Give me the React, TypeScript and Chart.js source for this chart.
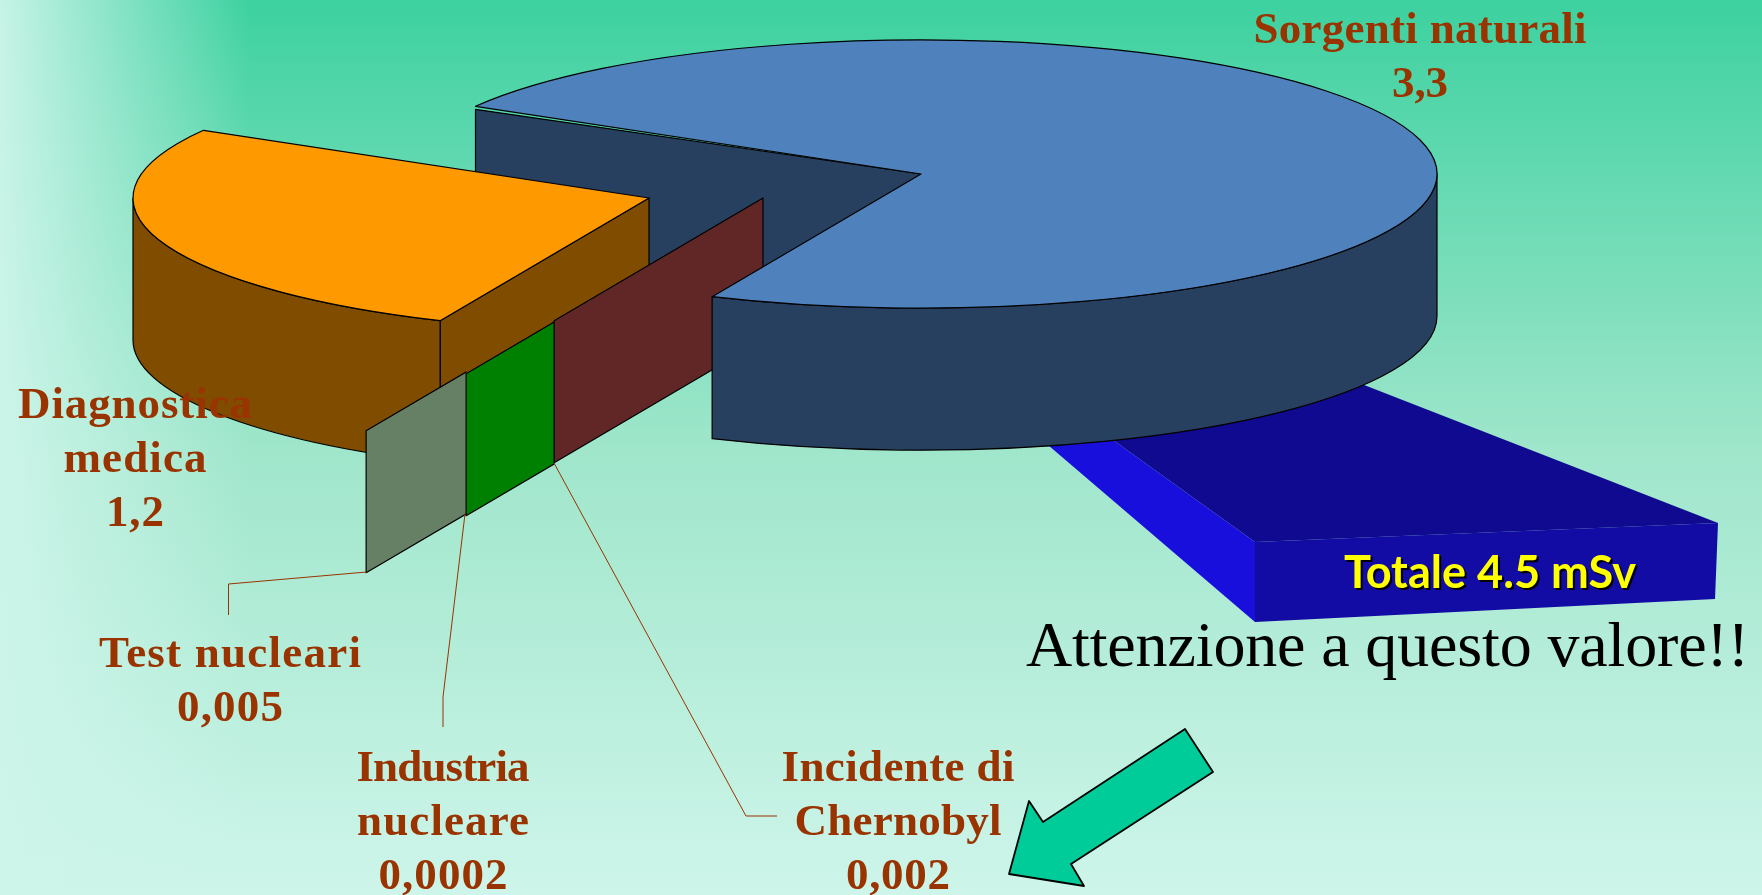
import React, { useEffect, useRef } from "react";
import { Chart, registerables } from "chart.js";

Chart.register(...registerables);

// ---------- data ----------
const sliceNames = [
  ["Sorgenti naturali"],
  ["Incidente di", "Chernobyl"],
  ["Industria", "nucleare"],
  ["Test nucleari"],
  ["Diagnostica", "medica"],
];
const sliceValues = [3.3, 0.002, 0.0002, 0.005, 1.2];
const sliceColors = ["#4F81BD", "#C0504D", "#00FF00", "#CCFFCC", "#FF9900"];
const wallColors = ["#27405F", "#602726", "#008000", "#668066", "#804D00"];
const totalLabel = "Totale 4.5 mSv";
const noteLabel = "Attenzione a questo valore!!";

// ---------- styling / layout ----------
const W = 1762;
const H = 895;
const PIE_RADIUS = 516;
const TILT = 0.26;
const DEPTH = 142;
// explosion of every slice in px on screen (PowerPoint-style pull-out)
const sliceShift: number[][] = [[0, 0], [-158, 24], [-246, 77], [-346, 134], [-272, 24]];
// label boxes per slice: centre x, first baseline, width per line (name lines, then value)
const labelBoxes = [
  { cx: 1420, y: 43, widths: [333, 56] },
  { cx: 898, y: 781, widths: [233, 207, 104] },
  { cx: 443, y: 781, widths: [173, 172, 129] },
  { cx: 230, y: 667, widths: [262, 106] },
  { cx: 135, y: 418, widths: [234, 143, 58] },
];
const LINE_H = 54;
const leaders = [
  [[366.5, 572], [228.5, 584], [228.5, 615]],
  [[465, 514], [443, 697], [443, 727]],
  [[554, 463], [746, 816], [777, 816]],
];
const arrowOutline = [[1185, 729], [1213, 772], [1071, 864], [1084, 886], [1009, 874], [1029, 801], [1043, 822]];

function poly(ctx: CanvasRenderingContext2D, pts: number[][], fill: any, stroke?: string) {
  ctx.beginPath();
  pts.forEach((p, i) => (i ? ctx.lineTo(p[0], p[1]) : ctx.moveTo(p[0], p[1])));
  ctx.closePath();
  ctx.fillStyle = fill;
  ctx.fill();
  if (stroke) {
    ctx.strokeStyle = stroke;
    ctx.stroke();
  }
}

// draw a centred line spread out to the width it has in the reference
function fitText(ctx: any, t: string, cx: number, y: number, width: number) {
  ctx.letterSpacing = "0px";
  const natural = ctx.measureText(t).width;
  const sp = t.length > 1 ? (width - natural) / (t.length - 1) : 0;
  ctx.letterSpacing = sp.toFixed(2) + "px";
  ctx.fillText(t, cx + sp / 2, y);
  ctx.letterSpacing = "0px";
}

const pie3dPlugin = {
  id: "pie3d",
  beforeDraw(chart: any) {
    const ctx: CanvasRenderingContext2D = chart.ctx;
    const v = ctx.createLinearGradient(0, 0, 0, H);
    v.addColorStop(0, "#3DD1A0");
    v.addColorStop(0.5, "#9FE6CB");
    v.addColorStop(1, "#CEF5EA");
    ctx.fillStyle = v;
    ctx.fillRect(0, 0, W, H);
    const h = ctx.createLinearGradient(0, 0, 250, 0);
    h.addColorStop(0, "rgba(206,245,234,0.95)");
    h.addColorStop(1, "rgba(206,245,234,0)");
    ctx.fillStyle = h;
    ctx.fillRect(0, 0, 250, H);
  },
  beforeDatasetDraw() {
    return false;
  },
  afterDatasetsDraw(chart: any) {
    const ctx: CanvasRenderingContext2D = chart.ctx;
    const arcs = chart.getDatasetMeta(0).data;
    ctx.save();
    ctx.lineJoin = "round";

    // total box, behind the pie
    poly(ctx, [[1060, 402], [1300, 360], [1718, 523], [1255, 542]], "#100A90");
    poly(ctx, [[1000, 404], [1060, 402], [1255, 542], [1255, 622]], "#190FDD");
    poly(ctx, [[1255, 542], [1718, 523], [1715, 599], [1255, 622]], "#120BA4");

    ctx.lineWidth = 1.2;
    ctx.strokeStyle = "#000";

    // The three tiny slices are under a degree: they are drawn as walls that
    // all sit on the end edge of the largest slice.
    const seam = arcs[0].endAngle;
    const geom = (i: number) => {
      const a = arcs[i];
      return {
        cx: a.x + sliceShift[i][0],
        cy: a.y + sliceShift[i][1],
        r: a.outerRadius,
        a0: i === 0 ? a.startAngle : seam,
        a1: i === 0 || i === 4 ? a.endAngle : seam,
      };
    };
    const outerX = (i: number) => {
      const g = geom(i);
      return g.cx + g.r * Math.cos(g.a0);
    };
    const startWall = (i: number, sliver = 0) => {
      const g = geom(i);
      const ox = g.cx + g.r * Math.cos(g.a0);
      const oy = g.cy + g.r * TILT * Math.sin(g.a0);
      poly(ctx, [[g.cx, g.cy], [ox, oy + sliver], [ox, oy + DEPTH], [g.cx, g.cy + DEPTH]], wallColors[i], "#000");
    };
    const outerWall = (i: number) => {
      const g = geom(i);
      const lo = Math.max(g.a0, 0);
      const hi = Math.min(g.a1, Math.PI);
      if (hi <= lo) return;
      ctx.beginPath();
      ctx.ellipse(g.cx, g.cy, g.r, g.r * TILT, 0, lo, hi, false);
      ctx.ellipse(g.cx, g.cy + DEPTH, g.r, g.r * TILT, 0, hi, lo, true);
      ctx.closePath();
      ctx.fillStyle = wallColors[i];
      ctx.fill();
      ctx.stroke();
    };
    const topFace = (i: number) => {
      const g = geom(i);
      if (g.a1 <= g.a0) return;
      ctx.beginPath();
      ctx.moveTo(g.cx, g.cy);
      ctx.ellipse(g.cx, g.cy, g.r, g.r * TILT, 0, g.a0, g.a1, false);
      ctx.closePath();
      ctx.fillStyle = sliceColors[i];
      ctx.fill();
      ctx.stroke();
    };

    startWall(0, 3);
    startWall(4);
    outerWall(4);
    topFace(4);
    // each thin wall is only drawn up to where the next one covers it
    for (const [i, next] of [[3, 2], [2, 1]]) {
      ctx.save();
      ctx.beginPath();
      ctx.rect(0, 0, outerX(next) + 0.5, H);
      ctx.clip();
      startWall(i);
      ctx.restore();
    }
    startWall(1);
    outerWall(0);
    topFace(0);

    // leader lines
    ctx.lineWidth = 1;
    ctx.strokeStyle = "#993300";
    for (const l of leaders) {
      ctx.beginPath();
      l.forEach((p, i) => (i ? ctx.lineTo(p[0], p[1]) : ctx.moveTo(p[0], p[1])));
      ctx.stroke();
    }

    // slice labels
    ctx.textAlign = "center";
    ctx.textBaseline = "alphabetic";
    ctx.fillStyle = "#993300";
    ctx.font = 'bold 45px "Liberation Serif"';
    sliceNames.forEach((name, i) => {
      const lines = [...name, String(sliceValues[i]).replace(".", ",")];
      const box = labelBoxes[i];
      lines.forEach((t, k) => fitText(ctx, t, box.cx, box.y + k * LINE_H, box.widths[k]));
    });

    // total label
    ctx.font = "bold 46px Lato";
    ctx.fillStyle = "#000";
    ctx.fillText(totalLabel, 1492, 590, 292);
    ctx.fillStyle = "#FFFF00";
    ctx.fillText(totalLabel, 1490, 588, 292);

    // note
    ctx.font = '64px "Liberation Serif"';
    ctx.fillStyle = "#000";
    fitText(ctx, noteLabel, 1387.5, 666, 723);

    // arrow
    ctx.lineWidth = 1.8;
    poly(ctx, arrowOutline, "#00CC99", "#000");
    ctx.restore();
  },
};

export default function App() {
  const ref = useRef<HTMLCanvasElement>(null);
  useEffect(() => {
    document.body.style.margin = "0";
    const chart = new Chart(ref.current!, {
      type: "pie",
      data: {
        labels: sliceNames.map((n) => n.join(" ")),
        datasets: [{ data: sliceValues, backgroundColor: sliceColors, borderColor: "#000", borderWidth: 1 }],
      },
      options: {
        responsive: false,
        animation: false,
        rotation: -59.7,
        radius: PIE_RADIUS,
        layout: { padding: { left: 80, bottom: 547 } },
        plugins: { legend: { display: false }, tooltip: { enabled: false } },
      },
      plugins: [pie3dPlugin],
    } as any);
    return () => chart.destroy();
  }, []);
  return <canvas ref={ref} width={W} height={H} style={{ display: "block", width: W, height: H }} />;
}
